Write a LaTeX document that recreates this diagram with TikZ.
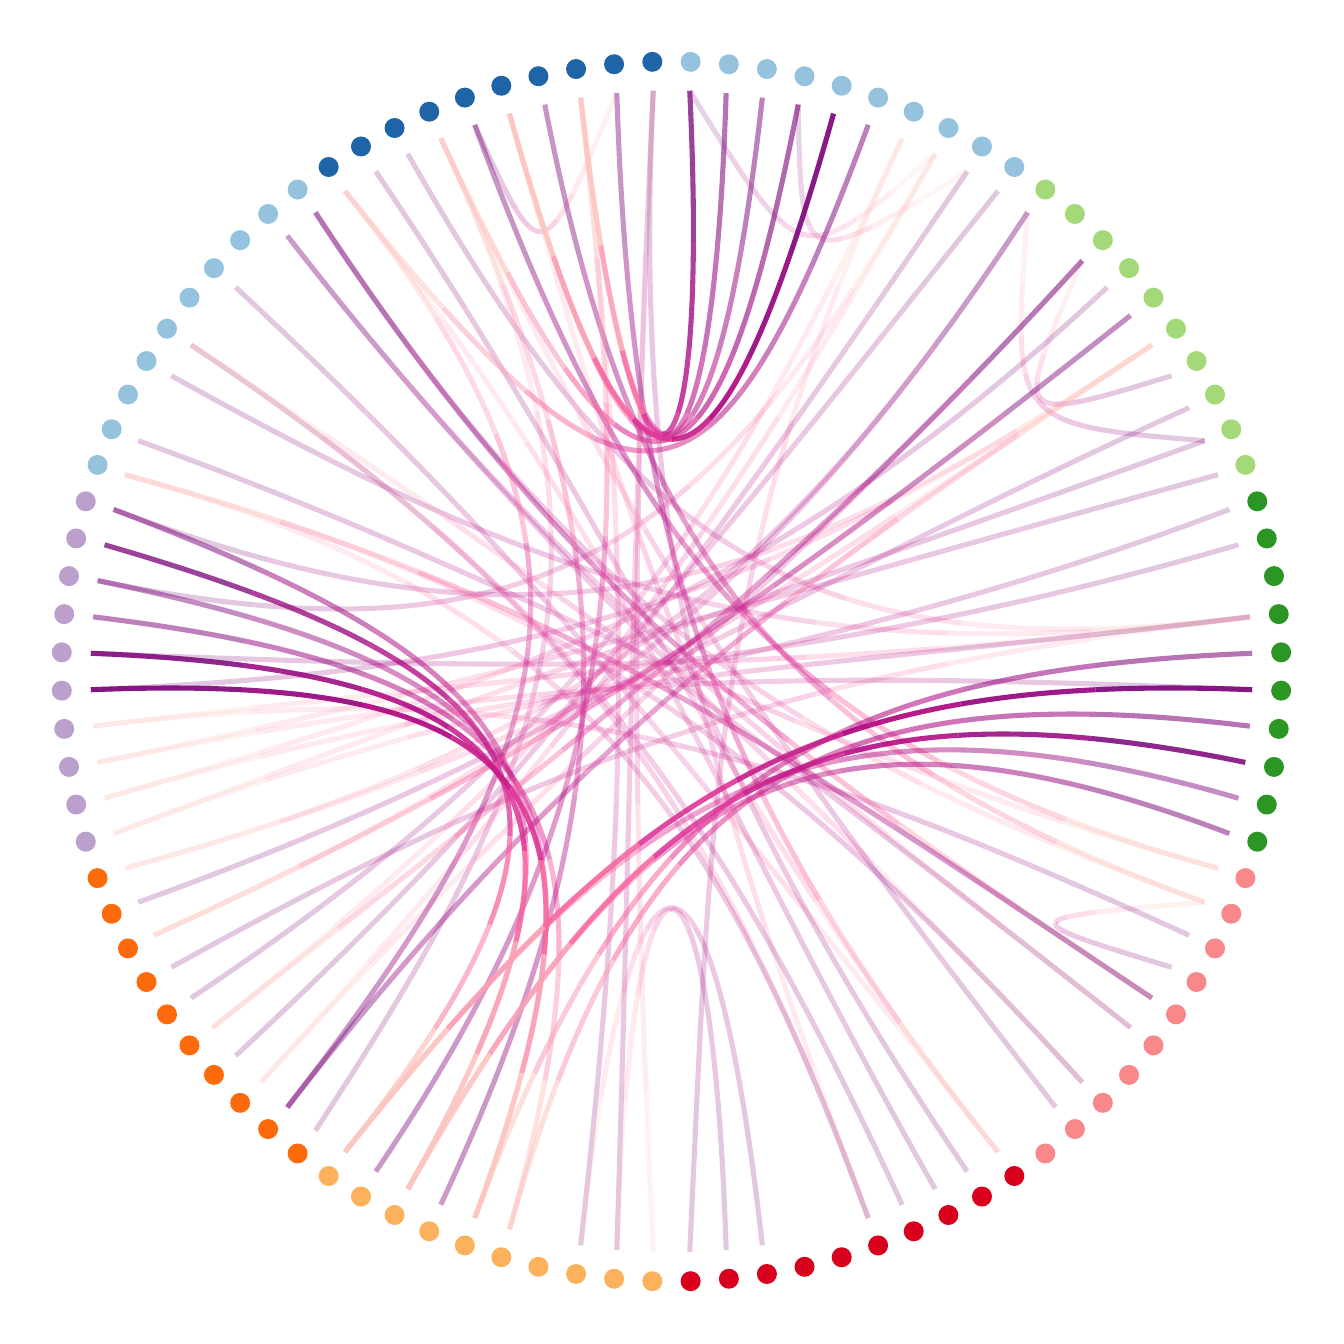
\documentclass[tikz,border=0pt]{standalone}
\usetikzlibrary{calc}
\definecolor{grp0}{RGB}{31,100,166}
\definecolor{grp1}{RGB}{149,195,221}
\definecolor{grp2}{RGB}{187,159,204}
\definecolor{grp3}{RGB}{253,106,11}
\definecolor{grp4}{RGB}{252,178,92}
\definecolor{grp5}{RGB}{216,0,28}
\definecolor{grp6}{RGB}{248,136,138}
\definecolor{grp7}{RGB}{44,150,36}
\definecolor{grp8}{RGB}{163,217,120}
\definecolor{grp9}{RGB}{149,195,221}
\definecolor{rp0}{HTML}{7A0177}
\definecolor{rp1}{HTML}{94017B}
\definecolor{rp2}{HTML}{AE017E}
\definecolor{rp3}{HTML}{C51B8A}
\definecolor{rp4}{HTML}{DD3497}
\definecolor{rp5}{HTML}{F768A1}
\definecolor{rp6}{HTML}{FA9FB5}
\definecolor{rp7}{HTML}{FCC5C0}
\newcommand{\getxy}[3]{\pgfpointanchor{#1}{center}\pgfgetlastxy{\tmpx}{\tmpy}%
  \pgfmathsetmacro#2{\tmpx}\pgfmathsetmacro#3{\tmpy}}
\newcommand{\bzseg}[4]{%
  \pgfmathsetmacro\ua{1-#1}\pgfmathsetmacro\ub{1-#2}\pgfmathsetmacro\du{#2-#1}%
  \pgfmathsetmacro\qax{\ua*\ua*\ua*(\Ax)+3*\ua*\ua*#1*(\Bx)+3*\ua*#1*#1*(\Cx)+#1*#1*#1*(\Dx)}%
  \pgfmathsetmacro\qay{\ua*\ua*\ua*(\Ay)+3*\ua*\ua*#1*(\By)+3*\ua*#1*#1*(\Cy)+#1*#1*#1*(\Dy)}%
  \pgfmathsetmacro\qdx{\ub*\ub*\ub*(\Ax)+3*\ub*\ub*#2*(\Bx)+3*\ub*#2*#2*(\Cx)+#2*#2*#2*(\Dx)}%
  \pgfmathsetmacro\qdy{\ub*\ub*\ub*(\Ay)+3*\ub*\ub*#2*(\By)+3*\ub*#2*#2*(\Cy)+#2*#2*#2*(\Dy)}%
  \pgfmathsetmacro\qbx{\qax+\du*(\ua*\ua*((\Bx)-(\Ax))+2*\ua*#1*((\Cx)-(\Bx))+#1*#1*((\Dx)-(\Cx)))}%
  \pgfmathsetmacro\qby{\qay+\du*(\ua*\ua*((\By)-(\Ay))+2*\ua*#1*((\Cy)-(\By))+#1*#1*((\Dy)-(\Cy)))}%
  \pgfmathsetmacro\qcx{\qdx-\du*(\ub*\ub*((\Bx)-(\Ax))+2*\ub*#2*((\Cx)-(\Bx))+#2*#2*((\Dx)-(\Cx)))}%
  \pgfmathsetmacro\qcy{\qdy-\du*(\ub*\ub*((\By)-(\Ay))+2*\ub*#2*((\Cy)-(\By))+#2*#2*((\Dy)-(\Cy)))}%
  \draw[wire, draw=#3, draw opacity=#4] (\qax pt,\qay pt) .. controls (\qbx pt,\qby pt) and (\qcx pt,\qcy pt) .. (\qdx pt,\qdy pt);}
\newcommand{\linkedge}[3]{%
  \pgfmathtruncatemacro\gsrc{#1/10}\pgfmathtruncatemacro\gdst{#2/10}%
  \getxy{e#1}{\Ax}{\Ay}\getxy{e#2}{\Dx}{\Dy}%
  \ifnum\gsrc=\gdst \getxy{w\gsrc}{\Bx}{\By}\let\Cx\Bx\let\Cy\By
  \else \getxy{h\gsrc}{\Bx}{\By}\getxy{h\gdst}{\Cx}{\Cy}\fi
  \foreach \i in {0,...,7} {
    \pgfmathsetmacro\ta{\i/8}
    \pgfmathsetmacro\tb{(\i+1)/8}
    \bzseg{\ta}{\tb}{rp\i}{#3}
  }}
\begin{document}
\begin{tikzpicture}[dot/.style={circle, inner sep=0pt, minimum size=0.2cm},
    wire/.style={line width=1.45pt, line cap=butt}]
    \useasboundingbox (-6.715,-6.725) rectangle (6.725,6.715);
    \foreach \g in {0,...,9} {
        \pgfmathsetmacro\ga{108+36*\g}
        \coordinate (h\g) at (\ga:1.3);
        \coordinate (w\g) at (\ga:4.2);
    }
    \foreach \k in {0,...,99} {
        \pgfmathsetmacro\ang{91.8+3.6*\k}
        \coordinate (e\k) at (\ang:5.81);
    }
    \foreach \src/\dst/\op in {0/49/0.2, 0/55/0.22, 5/1/0.22, 7/76/0.22, 8/59/0.22, 10/68/0.22, 11/64/0.22,
        11/62/0.22, 13/59/0.22, 15/55/0.22, 16/76/0.22, 18/69/0.22, 20/84/0.22, 22/92/0.22, 24/76/0.22,
        25/84/0.22, 31/84/0.22, 33/76/0.22, 34/93/0.22, 36/92/0.22, 39/6/0.22, 47/2/0.22, 48/0/0.22,
        51/48/0.22, 52/47/0.22, 50/93/0.22, 55/19/0.22, 56/15/0.22, 57/9/0.22, 58/4/0.22, 61/6/0.22,
        62/19/0.22, 64/15/0.22, 66/68/0.22, 67/26/0.22, 74/27/0.22, 76/28/0.22, 78/26/0.22, 79/29/0.22,
        80/27/0.22, 81/29/0.22, 81/89/0.22, 82/30/0.22, 83/87/0.22, 86/28/0.22, 87/37/0.22, 89/30/0.22,
        89/32/0.22, 90/35/0.22, 91/37/0.22, 96/91/0.18, 99/92/0.18,
        1/59/0.42, 3/68/0.42, 5/69/0.42, 10/65/0.42, 65/19/0.4, 20/42/0.5, 22/44/0.45, 23/45/0.5,
        38/84/0.4, 38/9/0.4, 41/2/0.4, 43/6/0.4, 70/42/0.5, 71/40/0.45, 73/45/0.55, 75/44/0.55,
        85/32/0.45, 87/35/0.4, 94/9/0.5, 96/6/0.6, 97/4/0.5, 98/2/0.55,
        21/40/0.75, 24/42/0.85, 25/44/0.9, 72/42/0.85, 74/40/0.9, 95/4/0.9, 99/2/0.75} {
        \linkedge{\src}{\dst}{\op}
    }
    \foreach \k in {0,...,99} {
        \pgfmathsetmacro\ang{91.8+3.6*\k}
        \pgfmathtruncatemacro\g{\k/10}
        \node[dot, fill=grp\g] (n\k) at (\ang:6.10) {};
    }
\end{tikzpicture}
\end{document}
